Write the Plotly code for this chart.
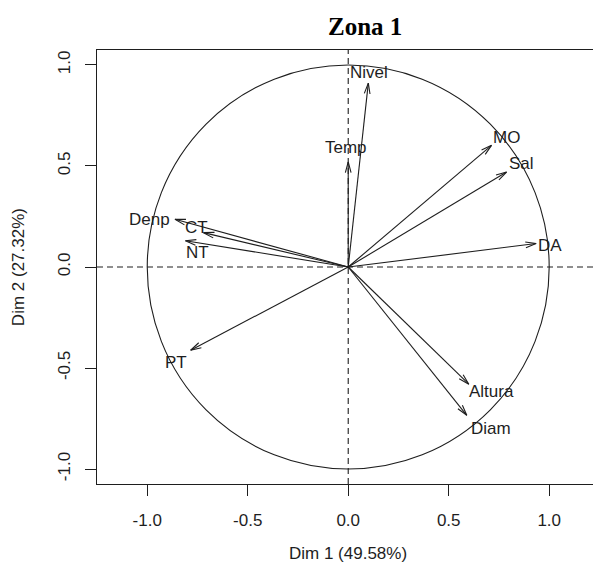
import math
import plotly.graph_objects as go

# Variable correlations with the first two PCA dimensions
variables = ["Nivel", "Temp", "MO", "Sal", "DA", "Denp", "CT", "NT", "PT", "Altura", "Diam"]
dim1 = [0.10, 0.00, 0.713, 0.788, 0.935, -0.862, -0.72, -0.81, -0.784, 0.60, 0.59]
dim2 = [0.91, 0.52, 0.602, 0.470, 0.116, 0.236, 0.17, 0.13, -0.412, -0.58, -0.734]

tick_vals = [-1.0, -0.5, 0.0, 0.5, 1.0]
tick_text = ["-1.0", "-0.5", "0.0", "0.5", "1.0"]

title_text = "Zona 1"
x_title = "Dim 1 (49.58%)"
y_title = "Dim 2 (27.32%)"

# Figure geometry
W, H = 593, 573
ML, MR, MT, MB = 97, 0, 50, 89
XR = [-1.25, 1.218]
YR = [-1.074, 1.074]
px_x = (W - ML - MR) / (XR[1] - XR[0])   # pixels per unit along x
px_y = (H - MT - MB) / (YR[1] - YR[0])   # pixels per unit along y

# Label offsets (pixels, x right / y down) from each arrow tip
label_offset = {
    "Nivel": (1, -11), "Temp": (-2, -14), "MO": (15, -8), "Sal": (15, -9),
    "DA": (14, 2), "Denp": (-25, 0), "CT": (-7, -5), "NT": (12, 12),
    "PT": (-15, 12), "Altura": (23, 7), "Diam": (24, 13),
}

INK = "#1e1e1e"
FONT = "Liberation Sans, Arial, sans-serif"

# Arrow shafts and open arrowheads (length 11 px, 15 degrees)
head_len = 11.0
head_ang = math.radians(15)
shaft_x, shaft_y, head_x, head_y = [], [], [], []
for x, y in zip(dim1, dim2):
    shaft_x += [0, x, None]
    shaft_y += [0, y, None]
    ux, uy = x * px_x, y * px_y
    n = math.hypot(ux, uy)
    ux, uy = ux / n, uy / n
    pts = []
    for s in (1, -1):
        c, sn = math.cos(s * head_ang), math.sin(s * head_ang)
        rx, ry = ux * c - uy * sn, ux * sn + uy * c
        pts.append((x - head_len * rx / px_x, y - head_len * ry / px_y))
    head_x += [pts[0][0], x, pts[1][0], None]
    head_y += [pts[0][1], y, pts[1][1], None]

fig = go.Figure()
fig.add_trace(go.Scatter(x=shaft_x, y=shaft_y, mode="lines",
                         line=dict(color=INK, width=1.1), hoverinfo="skip"))
fig.add_trace(go.Scatter(x=head_x, y=head_y, mode="lines",
                         line=dict(color=INK, width=1.1), hoverinfo="skip"))

shapes = [
    # unit correlation circle
    dict(type="circle", xref="x", yref="y", x0=-1, x1=1, y0=-1, y1=1,
         line=dict(color=INK, width=1.1), layer="below"),
    # reference axes through the origin
    dict(type="line", xref="x", yref="paper", x0=0, x1=0, y0=0, y1=1,
         line=dict(color=INK, width=1.1, dash="6px,4px")),
    dict(type="line", xref="paper", yref="y", x0=0, x1=1, y0=0, y1=0,
         line=dict(color=INK, width=1.1, dash="6px,4px")),
]

annotations = []
for name, x, y in zip(variables, dim1, dim2):
    dx, dy = label_offset[name]
    annotations.append(dict(x=x, y=y, xref="x", yref="y", text=name,
                            showarrow=False, xanchor="center", yanchor="middle",
                            xshift=dx, yshift=-dy,
                            font=dict(family=FONT, size=17, color=INK)))

annotations += [
    dict(x=0, y=-0.159, xref="x", yref="paper", text=x_title, showarrow=False,
         xanchor="center", yanchor="middle",
         font=dict(family=FONT, size=17, color=INK)),
    dict(x=-0.159, y=0, xref="paper", yref="y", text=y_title, showarrow=False,
         textangle=-90, xanchor="center", yanchor="middle",
         font=dict(family=FONT, size=17, color=INK)),
    dict(x=365 / W, y=1 - 26 / H, xref="paper", yref="paper", text="<b>" + title_text + "</b>",
         showarrow=False, xanchor="center", yanchor="middle",
         font=dict(family="Liberation Serif, Times New Roman, serif", size=25, color="black")),
]

# The title annotation uses paper coords relative to the plot area; convert
annotations[-1]["x"] = (365 - ML) / (W - ML - MR)
annotations[-1]["y"] = 1 + (MT - 26) / (H - MT - MB)

fig.update_layout(
    width=W, height=H,
    margin=dict(l=ML, r=MR, t=MT, b=MB, pad=0),
    paper_bgcolor="white", plot_bgcolor="white",
    showlegend=False,
    shapes=shapes,
    annotations=annotations,
    xaxis=dict(range=XR, tickvals=tick_vals, ticktext=tick_text,
               showgrid=False, zeroline=False, showline=True, mirror=True,
               linecolor=INK, linewidth=1.1, ticks="outside", ticklen=11,
               tickwidth=1.1, tickcolor=INK, ticklabelstandoff=10,
               tickfont=dict(family=FONT, size=17, color=INK)),
    yaxis=dict(range=YR, tickvals=tick_vals, ticktext=tick_text,
               showgrid=False, zeroline=False, showline=True, mirror=False,
               linecolor=INK, linewidth=1.1, ticks="outside", ticklen=11,
               tickwidth=1.1, tickcolor=INK, tickangle=-90, ticklabelstandoff=8,
               tickfont=dict(family=FONT, size=17, color=INK)),
)

fig.write_html("out.html")
